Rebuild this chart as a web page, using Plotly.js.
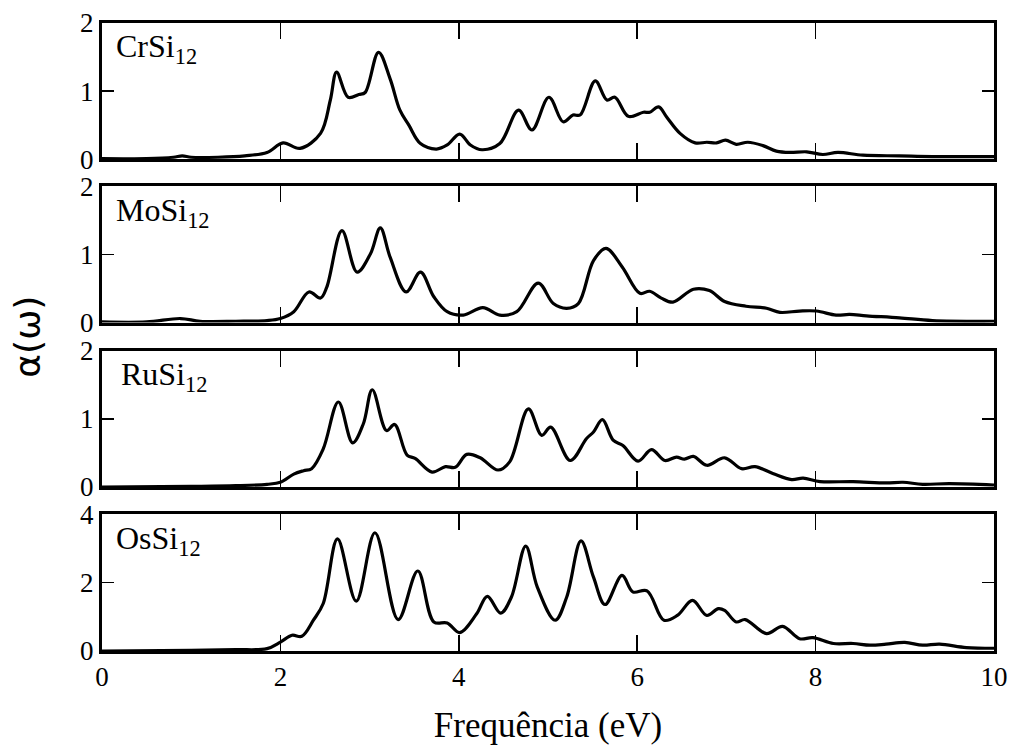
<!DOCTYPE html>
<html>
<head>
<meta charset="utf-8">
<script src="https://cdn.plot.ly/plotly-3.0.1.min.js"></script>
<style>html,body{margin:0;padding:0;background:#fff;}#chart{width:1013px;height:748px;}</style>
</head>
<body>
<div id="chart"></div>
<script>
// Panel labels
const panelNames = ["CrSi<sub>12</sub>", "MoSi<sub>12</sub>", "RuSi<sub>12</sub>", "OsSi<sub>12</sub>"];

// CrSi12
const crX = [0, 0.5, 0.8, 0.9, 1.0, 1.3, 1.6, 1.85, 2.03, 2.22, 2.45, 2.56, 2.63, 2.76, 2.88, 2.95, 3.10, 3.23, 3.34, 3.44, 3.57, 3.75, 3.87, 4.01, 4.13, 4.26, 4.46, 4.67, 4.82, 5.01, 5.17, 5.28, 5.36, 5.53, 5.66, 5.75, 5.90, 6.07, 6.14, 6.24, 6.33, 6.48, 6.65, 6.78, 6.89, 6.99, 7.11, 7.24, 7.41, 7.56, 7.71, 7.90, 8.08, 8.25, 8.53, 8.94, 9.31, 10];
const crY = [0.01, 0.01, 0.03, 0.05, 0.03, 0.03, 0.05, 0.10, 0.24, 0.16, 0.38, 0.87, 1.28, 0.91, 0.95, 0.98, 1.57, 1.18, 0.72, 0.50, 0.23, 0.15, 0.21, 0.37, 0.21, 0.14, 0.23, 0.72, 0.43, 0.91, 0.55, 0.65, 0.65, 1.15, 0.87, 0.91, 0.63, 0.69, 0.69, 0.77, 0.62, 0.38, 0.24, 0.25, 0.24, 0.28, 0.22, 0.25, 0.20, 0.12, 0.10, 0.11, 0.07, 0.10, 0.06, 0.05, 0.04, 0.04];

// MoSi12
const moX = [0, 0.5, 0.88, 1.1, 1.5, 1.85, 2.0, 2.15, 2.32, 2.45, 2.52, 2.69, 2.86, 3.01, 3.12, 3.23, 3.41, 3.57, 3.72, 3.87, 4.05, 4.27, 4.46, 4.65, 4.89, 5.06, 5.21, 5.34, 5.51, 5.65, 5.83, 6.03, 6.14, 6.27, 6.40, 6.63, 6.81, 6.98, 7.22, 7.45, 7.60, 7.82, 8.01, 8.23, 8.38, 8.57, 8.94, 9.31, 10];
const moY = [0.01, 0.01, 0.06, 0.02, 0.02, 0.03, 0.06, 0.16, 0.45, 0.36, 0.52, 1.35, 0.74, 1.01, 1.39, 0.96, 0.45, 0.74, 0.38, 0.16, 0.11, 0.22, 0.11, 0.16, 0.58, 0.28, 0.21, 0.28, 0.91, 1.09, 0.82, 0.43, 0.46, 0.36, 0.30, 0.49, 0.47, 0.31, 0.24, 0.21, 0.15, 0.17, 0.17, 0.11, 0.12, 0.10, 0.07, 0.03, 0.02];

// RuSi12
const ruX = [0, 1.0, 1.5, 1.85, 2.0, 2.15, 2.26, 2.35, 2.48, 2.65, 2.81, 2.93, 3.03, 3.19, 3.28, 3.42, 3.51, 3.70, 3.85, 3.96, 4.09, 4.24, 4.44, 4.57, 4.78, 4.93, 5.03, 5.25, 5.43, 5.51, 5.61, 5.73, 5.84, 6.01, 6.16, 6.31, 6.44, 6.53, 6.63, 6.78, 6.98, 7.17, 7.32, 7.52, 7.73, 7.86, 8.05, 8.42, 8.79, 8.98, 9.20, 9.50, 10];
const ruY = [0.0, 0.01, 0.02, 0.04, 0.07, 0.19, 0.24, 0.27, 0.56, 1.25, 0.65, 0.93, 1.43, 0.83, 0.92, 0.47, 0.42, 0.22, 0.30, 0.29, 0.48, 0.43, 0.25, 0.37, 1.15, 0.76, 0.88, 0.39, 0.71, 0.81, 0.99, 0.69, 0.61, 0.38, 0.55, 0.39, 0.44, 0.41, 0.45, 0.32, 0.43, 0.27, 0.30, 0.20, 0.11, 0.13, 0.08, 0.08, 0.06, 0.07, 0.04, 0.05, 0.03];

// OsSi12
const osX = [0, 1.0, 1.5, 1.85, 2.0, 2.13, 2.24, 2.37, 2.48, 2.64, 2.85, 3.06, 3.32, 3.54, 3.72, 3.87, 4.01, 4.20, 4.32, 4.47, 4.59, 4.75, 4.88, 5.08, 5.21, 5.37, 5.51, 5.64, 5.83, 5.95, 6.11, 6.30, 6.45, 6.62, 6.78, 6.91, 6.98, 7.11, 7.21, 7.45, 7.63, 7.82, 7.97, 8.20, 8.42, 8.61, 8.79, 9.0, 9.20, 9.39, 9.69, 10];
const osY = [0.0, 0.02, 0.04, 0.07, 0.26, 0.46, 0.43, 0.90, 1.39, 3.28, 1.46, 3.46, 0.92, 2.34, 0.85, 0.82, 0.54, 1.09, 1.60, 1.11, 1.58, 3.07, 1.87, 0.90, 1.58, 3.22, 2.16, 1.36, 2.21, 1.73, 1.76, 0.90, 1.04, 1.48, 1.04, 1.24, 1.19, 0.85, 0.92, 0.51, 0.72, 0.36, 0.39, 0.22, 0.22, 0.17, 0.20, 0.25, 0.17, 0.20, 0.10, 0.08];

const yMax = [2, 2, 2, 4];
const yStep = [1, 1, 1, 2];
const xTitle = "Frequência (eV)";
const yTitle = "α(ω)";

const series = [[crX, crY], [moX, moY], [ruX, ruY], [osX, osY]];
const domains = [[0.7830, 1.0], [0.5229, 0.7400], [0.2611, 0.4777], [0, 0.2177]];

const serif = "'Liberation Serif', 'Times New Roman', Times, serif";
const traces = series.map((s, i) => ({
  x: s[0], y: s[1], type: "scatter", mode: "lines",
  line: {color: "#000", width: 3.2, shape: "spline", smoothing: 1},
  xaxis: "x" + (i ? i + 1 : ""), yaxis: "y" + (i ? i + 1 : ""),
  showlegend: false, hoverinfo: "skip"
}));

const layout = {
  width: 1013, height: 748,
  margin: {l: 101.5, r: 18.5, t: 23, b: 97},
  paper_bgcolor: "#fff", plot_bgcolor: "#fff",
  showlegend: false,
  font: {family: serif, color: "#000", size: 27},
  annotations: []
};

for (let i = 0; i < 4; i++) {
  const k = i ? i + 1 : "";
  const xa = {
    anchor: "y" + k, range: [0, 10], dtick: 2, tick0: 0,
    ticks: "inside", ticklen: 16, tickwidth: 1.5, tickcolor: "#000",
    showline: true, linewidth: 3, linecolor: "#000", mirror: "ticks",
    showgrid: false, zeroline: false,
    showticklabels: i === 3,
    tickfont: {family: serif, size: 27, color: "#000"}
  };
  if (i === 3) xa.title = {text: xTitle, font: {family: serif, size: 35, color: "#000"}, standoff: 22};
  layout["xaxis" + k] = xa;
  layout["yaxis" + k] = {
    anchor: "x" + k, domain: domains[i], range: [0, yMax[i]], dtick: yStep[i], tick0: 0,
    ticks: "inside", ticklen: 12, tickwidth: 1.5, tickcolor: "#000",
    showline: true, linewidth: 3, linecolor: "#000", mirror: "ticks",
    showgrid: false, zeroline: false,
    tickfont: {family: serif, size: 27, color: "#000"}
  };
  layout.annotations.push({
    text: panelNames[i], xref: "x" + k, yref: "y" + k,
    x: i === 2 ? 0.19 : 0.13, y: yMax[i] * 0.975, xanchor: "left", yanchor: "top",
    showarrow: false, font: {family: serif, size: 32, color: "#000"}
  });
}
layout.annotations.push({
  text: yTitle, xref: "paper", yref: "paper", x: -0.0845, y: 0.5,
  xanchor: "center", yanchor: "middle", textangle: -90, showarrow: false,
  font: {family: "'DejaVu Sans', sans-serif", size: 36, color: "#000"}
});

Plotly.newPlot("chart", traces, layout, {staticPlot: true});
</script>
</body>
</html>
